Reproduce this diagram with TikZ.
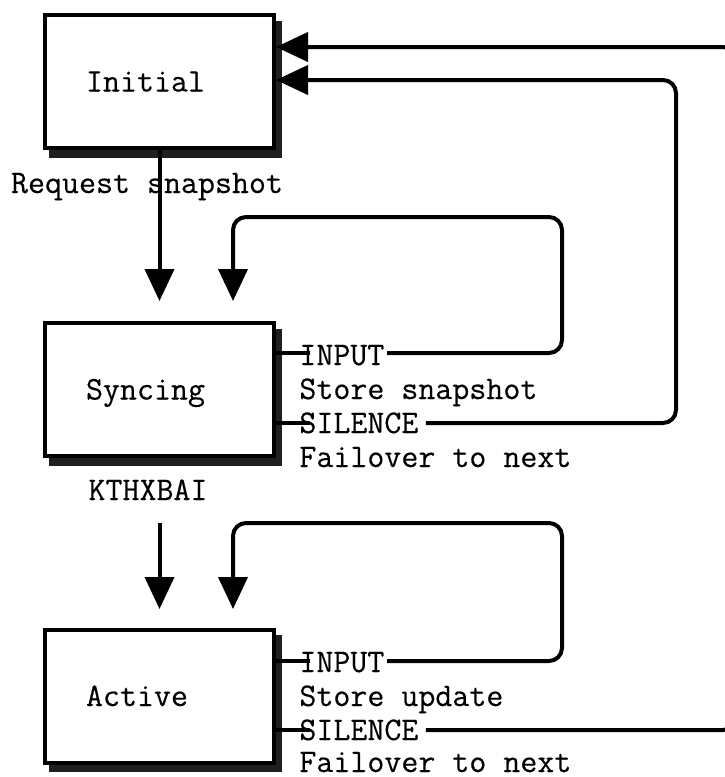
\documentclass[tikz,border=0pt]{standalone}
\usepackage{fontspec}
\setmonofont{Latin Modern Mono}[FakeBold=0.35]
\usetikzlibrary{arrows.meta,shadows}
\begin{document}
\begin{tikzpicture}[x=0.5pt,y=-0.5pt,
  every node/.style={font=\ttfamily\fontsize{16.5}{17}\selectfont},
  statebox/.style={draw=black, line width=2pt, fill=white,
    minimum width=114.5pt, minimum height=66.5pt,
    text width=73.5pt, inner xsep=20.5pt, inner ysep=0pt, align=left,
    text height=12pt, text depth=2pt,
    drop shadow={shadow xshift=3pt, shadow yshift=-3.75pt,
      fill=black!88, draw=black!88, line width=2pt, opacity=1}},
  lbl/.style={inner sep=0pt, anchor=base west},
  clbl/.style={inner sep=0pt, anchor=base},
  conn/.style={draw=black, line width=2pt, rounded corners=6.5pt},
  arr/.style={conn, -{Triangle[length=16pt,width=14.5pt]}}
]
\useasboundingbox (0,0) rectangle (724,777);

% states
\node[statebox] (init) at (159.5,81.5) {Initial};
\node[statebox] (sync) at (159.5,389.5) {Syncing};
\node[statebox] (act)  at (159.5,696) {Active};

% labels
\node[clbl] (lreq) at (147,193) {Request snapshot};
\node[clbl] (lkth) at (148,500) {KTHXBAI};

\node[lbl] (sIn)    at (299,365) {INPUT};
\node[lbl] (sStore) at (299,399) {Store snapshot};
\node[lbl] (sSil)   at (299,433) {SILENCE};
\node[lbl] (sFail)  at (299,467) {Failover to next};

\node[lbl] (aIn)    at (299,672) {INPUT};
\node[lbl] (aStore) at (299,706) {Store update};
\node[lbl] (aSil)   at (299,740) {SILENCE};
\node[lbl] (aFail)  at (299,772) {Failover to next};

% helper coordinates
\coordinate (sInY)  at (310,353);
\coordinate (sSilY) at (310,423);
\coordinate (aInY)  at (310,661);
\coordinate (aSilY) at (310,730);
\coordinate (yA) at (0,47);
\coordinate (yB) at (0,80);
\coordinate (syncTip) at (0,301);
\coordinate (actTip)  at (0,609);
\coordinate (actStart) at (0,523);

% vertical transitions
\draw[arr] (init.south) -- (init.south |- syncTip);
\draw[arr] (sync.south |- actStart) -- (sync.south |- actTip);

% stubs
\draw[conn] (sync.east |- sInY) -- (sInY);
\draw[conn] (sync.east |- sSilY) -- (sSilY);
\draw[conn] (act.east |- aInY) -- (aInY);
\draw[conn] (act.east |- aSilY) -- (aSilY);

% Syncing INPUT self loop
\draw[arr] ([xshift=1.2pt]sIn.east |- sInY) -- (562,353) -- (562,217) -- (233,217) -- (233,301);
% Syncing SILENCE -> Initial
\draw[arr] ([xshift=3.5pt]sSil.east |- sSilY) -- (676,423) -- (676,80) -- (init.east |- yB);
% Active INPUT self loop
\draw[arr] ([xshift=1.2pt]aIn.east |- aInY) -- (562,661) -- (562,523) -- (233,523) -- (233,609);
% Active SILENCE -> Initial
\draw[arr] ([xshift=3.5pt]aSil.east |- aSilY) -- (736,730) -- (736,47) -- (init.east |- yA);
\end{tikzpicture}
\end{document}
